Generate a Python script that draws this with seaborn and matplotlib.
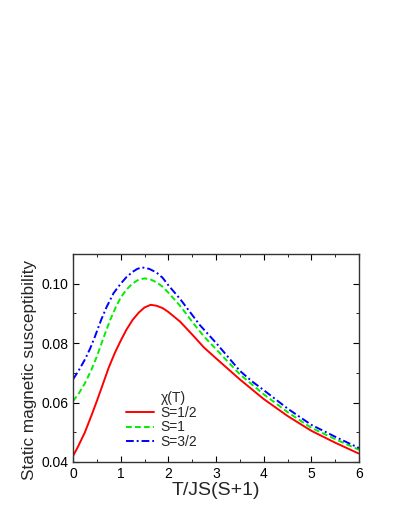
import pandas as pd
import matplotlib.pyplot as plt
import seaborn as sns
from matplotlib.lines import Line2D
from matplotlib.ticker import MultipleLocator

# values
t_half = [0, 0.1, 0.25, 0.4, 0.5, 0.6, 0.75, 0.88, 1.0, 1.12, 1.25, 1.38, 1.5, 1.63, 1.75, 1.88,
          2.0, 2.25, 2.5, 2.75, 3.0, 3.5, 4.0, 4.5, 5.0, 5.5, 6.0]
chi_half = [0.0420, 0.0450, 0.0500, 0.0562, 0.0605, 0.0650, 0.0718, 0.0768, 0.0808, 0.0845, 0.0878,
            0.0903, 0.0920, 0.0929, 0.0926, 0.0918, 0.0905, 0.0872, 0.0829, 0.0785, 0.0749, 0.0678,
            0.0612, 0.0555, 0.0505, 0.0465, 0.0428]

t_one = [0, 0.12, 0.25, 0.38, 0.5, 0.64, 0.78, 0.9, 1.0, 1.12, 1.25, 1.38, 1.5, 1.62, 1.75, 1.88,
         2.0, 2.25, 2.5, 2.75, 3.0, 3.5, 4.0, 4.5, 5.0, 5.5, 6.0]
chi_one = [0.0605, 0.0630, 0.0665, 0.0708, 0.0755, 0.0818, 0.0878, 0.0922, 0.0953, 0.0980, 0.1001,
           0.1014, 0.1018, 0.1015, 0.1005, 0.0990, 0.0970, 0.0925, 0.0872, 0.0822, 0.0780, 0.0695,
           0.0628, 0.0568, 0.0515, 0.0477, 0.0441]

t_three = [0, 0.12, 0.25, 0.36, 0.46, 0.59, 0.7, 0.85, 1.0, 1.12, 1.25, 1.35, 1.45, 1.6, 1.75, 1.88,
           2.0, 2.25, 2.5, 2.66, 3.0, 3.5, 3.75, 4.0, 4.5, 5.0, 5.5, 6.0]
chi_three = [0.0678, 0.0708, 0.0745, 0.0782, 0.0822, 0.0878, 0.0920, 0.0968, 0.1000, 0.1022, 0.1040,
             0.1050, 0.1055, 0.1050, 0.1038, 0.1020, 0.0995, 0.0948, 0.0895, 0.0861, 0.0801, 0.0707,
             0.0672, 0.0642, 0.0580, 0.0525, 0.0485, 0.0447]

labels = ["S=1/2", "S=1", "S=3/2"]
colors = ["#ff0000", "#00ee00", "#0000ff"]
styles = ["-", (0, (3, 1.6)), (0, (4, 1.5, 1, 1.5))]

sns.set_style("ticks")
plt.rcParams["font.family"] = ["Liberation Sans", "DejaVu Sans"]

fig = plt.figure(figsize=(3.95, 5.11), dpi=100)
ax = fig.add_axes([0.1848, 0.0959, 0.7241, 0.407])

series = [(t_half, chi_half), (t_one, chi_one), (t_three, chi_three)]
handles = [Line2D([], [], color="none")]
for (t, chi), lab, col, ls in zip(series, labels, colors, styles):
    df = pd.DataFrame({"T": t, "chi": chi})
    sns.lineplot(data=df, x="T", y="chi", ax=ax, color=col, linewidth=1.4)
    ax.lines[-1].set_linestyle(ls)
    handles.append(Line2D([], [], color=col, linestyle=ls, linewidth=1.4))

ax.set_xlim(0, 6)
ax.set_ylim(0.04, 0.11)
ax.xaxis.set_major_locator(MultipleLocator(1))
ax.xaxis.set_minor_locator(MultipleLocator(0.5))
ax.yaxis.set_minor_locator(MultipleLocator(0.01))
ax.set_yticks([0.04, 0.06, 0.08, 0.10])
ax.set_yticklabels(["0.04", "0.06", "0.08", "0.10"])
ax.tick_params(which="both", direction="in", top=True, right=True, labelsize=10, colors="black")
ax.tick_params(which="major", length=4)
ax.tick_params(which="minor", length=2.5)
for s in ax.spines.values():
    s.set_color("#333333")
    s.set_linewidth(1.0)

ax.set_xlabel("T/JS(S+1)", fontsize=14, labelpad=1)
ax.set_ylabel("Static magnetic susceptibility", fontsize=12.3)
ax.yaxis.set_label_coords(-0.125, 0.442)

ax.legend(handles, ["\u03c7(T)"] + labels, loc="lower left", bbox_to_anchor=(0.165, 0.035),
          frameon=False, fontsize=10, handlelength=2.0, handletextpad=0.5,
          labelspacing=0.05, borderaxespad=0)

fig.savefig("out.png", dpi=100)
